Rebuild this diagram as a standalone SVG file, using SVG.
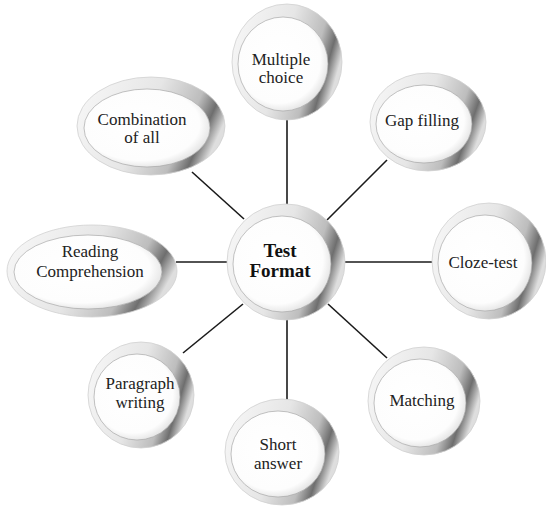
<svg xmlns="http://www.w3.org/2000/svg" width="546" height="506" viewBox="0 0 546 506">
  <defs>
    <linearGradient id="rim" x1="0" y1="0.15" x2="1" y2="0.45">
      <stop offset="0" stop-color="#f7f7f7"/>
      <stop offset="0.5" stop-color="#e6e6e6"/>
      <stop offset="0.78" stop-color="#bdbdbd"/>
      <stop offset="0.9" stop-color="#6e6e6e"/>
      <stop offset="1" stop-color="#dedede"/>
    </linearGradient>
    <radialGradient id="face" cx="0.45" cy="0.45" r="0.6">
      <stop offset="0" stop-color="#ffffff"/>
      <stop offset="0.78" stop-color="#fdfdfd"/>
      <stop offset="1" stop-color="#dddddd"/>
    </radialGradient>
    <style>
      .rim { fill: url(#rim); stroke: #d0d0d0; stroke-width: 0.8; }
      .face { fill: url(#face); stroke: #a8a8a8; stroke-width: 0.7; }
      .lbl { font-family: "Liberation Serif", "Times New Roman", serif; font-size: 17px; fill: #222; text-anchor: middle; }
      .ctr { font-family: "Liberation Serif", "Times New Roman", serif; font-size: 19px; font-weight: bold; fill: #111; text-anchor: middle; }
      .con { stroke: #1a1a1a; stroke-width: 1.6; fill: none; }
    </style>
  </defs>
  <rect width="546" height="506" fill="#ffffff"/>

  <g id="connectors">
    <line class="con" x1="287" y1="118" x2="287" y2="206"/>
    <line class="con" x1="327" y1="220" x2="387" y2="160"/>
    <line class="con" x1="344" y1="262" x2="433" y2="262"/>
    <line class="con" x1="328" y1="304" x2="387" y2="358"/>
    <line class="con" x1="287" y1="318" x2="287" y2="400"/>
    <line class="con" x1="243" y1="304" x2="183" y2="353"/>
    <line class="con" x1="229" y1="262" x2="176" y2="262"/>
    <line class="con" x1="244" y1="219" x2="192" y2="172"/>
  </g>

  <g id="node-multiple-choice">
    <ellipse class="rim" cx="287" cy="62" rx="55" ry="58"/>
    <ellipse class="face" cx="283" cy="64" rx="45" ry="47"/>
    <text class="lbl" x="281" y="65">Multiple</text>
    <text class="lbl" x="281" y="83">choice</text>
  </g>

  <g id="node-gap-filling">
    <ellipse class="rim" cx="428" cy="122" rx="58" ry="49"/>
    <ellipse class="face" cx="424" cy="124" rx="48" ry="39"/>
    <text class="lbl" x="422" y="126">Gap filling</text>
  </g>

  <g id="node-cloze-test">
    <ellipse class="rim" cx="489" cy="261" rx="57" ry="58"/>
    <ellipse class="face" cx="485" cy="263" rx="47" ry="48"/>
    <text class="lbl" x="483" y="268">Cloze-test</text>
  </g>

  <g id="node-matching">
    <ellipse class="rim" cx="424" cy="401" rx="56" ry="54"/>
    <ellipse class="face" cx="420" cy="403" rx="46" ry="44"/>
    <text class="lbl" x="422" y="406">Matching</text>
  </g>

  <g id="node-short-answer">
    <ellipse class="rim" cx="282" cy="452" rx="57" ry="53"/>
    <ellipse class="face" cx="278" cy="454" rx="47" ry="43"/>
    <text class="lbl" x="278" y="450">Short</text>
    <text class="lbl" x="278" y="469">answer</text>
  </g>

  <g id="node-paragraph-writing">
    <ellipse class="rim" cx="141" cy="395" rx="53" ry="53"/>
    <ellipse class="face" cx="137" cy="397" rx="43" ry="43"/>
    <text class="lbl" x="140" y="389">Paragraph</text>
    <text class="lbl" x="140" y="408">writing</text>
  </g>

  <g id="node-reading-comprehension">
    <ellipse class="rim" cx="92" cy="271" rx="85" ry="46"/>
    <ellipse class="face" cx="88" cy="272" rx="74" ry="37"/>
    <text class="lbl" x="90" y="257">Reading</text>
    <text class="lbl" x="90" y="277">Comprehension</text>
  </g>

  <g id="node-combination-of-all">
    <ellipse class="rim" cx="151" cy="126" rx="74" ry="49"/>
    <ellipse class="face" cx="147" cy="128" rx="63" ry="39"/>
    <text class="lbl" x="142" y="125">Combination</text>
    <text class="lbl" x="142" y="143">of all</text>
  </g>

  <g id="node-test-format">
    <ellipse class="rim" cx="286" cy="262" rx="59" ry="58"/>
    <ellipse class="face" cx="282" cy="264" rx="49" ry="48"/>
    <text class="ctr" x="280" y="257">Test</text>
    <text class="ctr" x="280" y="277">Format</text>
  </g>
</svg>
